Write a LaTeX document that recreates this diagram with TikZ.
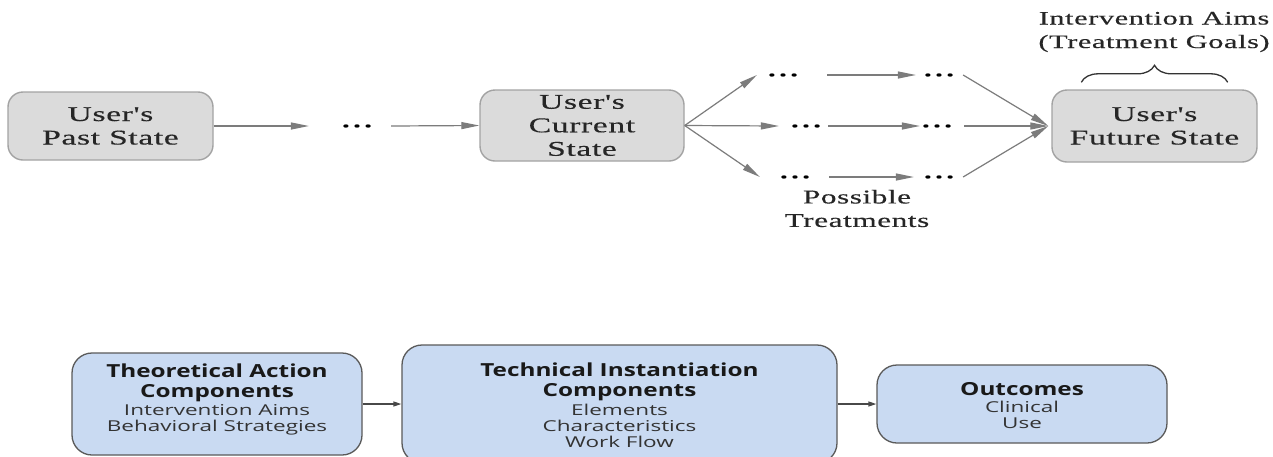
\documentclass[tikz,border=0pt]{standalone}
\usepackage{fontspec}
\usetikzlibrary{arrows.meta,decorations.pathreplacing}
\newfontfamily\topfont[FakeStretch=1.6,LetterSpace=3,FakeBold=0.4]{Liberation Serif}
\newfontfamily\headfont[FakeStretch=1.35]{Open Sans}
\newfontfamily\bodyfont[FakeStretch=1.5]{Open Sans}
\definecolor{tfill}{HTML}{DBDBDB}
\definecolor{tdraw}{HTML}{A3A3A3}
\definecolor{bfill}{HTML}{C9DAF2}
\definecolor{bdraw}{HTML}{5A5A5A}
\definecolor{tline}{HTML}{7C7C7C}
\definecolor{btext}{HTML}{333333}
\newcommand{\threedots}{.\hspace{3.5pt}.\hspace{3.5pt}.}
\tikzset{
  topbox/.style={draw=tdraw,fill=tfill,line width=1.4pt,rounded corners=15pt,
    align=center,inner sep=0pt,font=\topfont\fontsize{21}{23.5}\selectfont,text=black!85},
  botbox/.style={draw=bdraw,fill=bfill,line width=1.3pt,rounded corners=20pt,inner sep=0pt},
  headtext/.style={align=center,inner sep=0pt,text=black!90,font=\headfont\bfseries\fontsize{18}{20}\selectfont},
  bodytext/.style={align=center,inner sep=0pt,text=btext,font=\bodyfont\fontsize{15}{16}\selectfont},
  dots/.style={inner sep=0pt,minimum width=28pt,font=\topfont\bfseries\fontsize{19}{19}\selectfont},
  toplabel/.style={align=center,inner sep=0pt,font=\topfont\fontsize{19.5}{23.5}\selectfont,text=black!85},
  conn/.style={draw=tline,line width=1.2pt,-{Triangle[length=18pt,width=7pt]}},
  bconn/.style={draw=bdraw!80!black,line width=1.3pt,-{Triangle[length=8pt,width=5pt]}},
}
\begin{document}
\begin{tikzpicture}[x=1pt,y=-1pt]
\useasboundingbox[fill=white] (0,0) rectangle (1273,456);
% top row
\node[topbox,minimum width=205pt,minimum height=68pt] (past) at (110.5,126) {User's\\Past State};
\node[topbox,minimum width=204pt,minimum height=71pt] (cur) at (582,125.5) {User's\\Current\\State};
\node[topbox,minimum width=205pt,minimum height=72pt] (fut) at (1154.5,126) {User's\\Future State};
\node[dots] (d0) at (357,126) {\threedots};
\node[dots] (u1) at (783,75) {\threedots};
\node[dots] (m1) at (806,126) {\threedots};
\node[dots] (l1) at (795,177) {\threedots};
\node[dots] (u2) at (939,75) {\threedots};
\node[dots] (m2) at (937,126) {\threedots};
\node[dots] (l2) at (939,177) {\threedots};
\draw[conn] (past.east) -- ([xshift=-33pt]d0.west);
\draw[conn] ([xshift=19pt]d0.east) -- (cur.west);
\draw[conn] (cur.east) -- ([xshift=-11pt]u1.west);
\draw[conn] (cur.east) -- ([xshift=-12pt]m1.west);
\draw[conn] (cur.east) -- ([xshift=-20pt]l1.west);
\draw[conn] ([xshift=29pt]u1.east) -- ([xshift=-8pt]u2.west);
\draw[conn] ([xshift=7pt]m1.east) -- ([xshift=-2pt]m2.west);
\draw[conn] ([xshift=19pt]l1.east) -- ([xshift=-10pt]l2.west);
\draw[conn] ([xshift=9pt]u2.east) -- ([xshift=-3pt]fut.west);
\draw[conn] ([xshift=12pt]m2.east) -- ([xshift=-3pt]fut.west);
\draw[conn] ([xshift=9pt]l2.east) -- ([xshift=-3pt]fut.west);
\node[toplabel] (poss) at (857,208.5) {Possible\\Treatments};
\draw[black!80,line width=1.3pt,decorate,decoration={brace,amplitude=17pt}]
  ([xshift=30pt,yshift=7pt]fut.north west) -- ([xshift=-30pt,yshift=7pt]fut.north east);
\node[toplabel,font=\topfont\fontsize{19}{23.5}\selectfont] (aims) at (1154,32) {Intervention Aims\\(Treatment Goals)};
% bottom row
\node[botbox,minimum width=290pt,minimum height=102pt] (b1) at (217,404) {};
\node[botbox,minimum width=435pt,minimum height=118pt] (b2) at (619.5,404) {};
\node[botbox,minimum width=290pt,minimum height=78pt] (b3) at (1022,404) {};
\node[headtext,anchor=north] (h1) at ([yshift=-11pt]b1.north) {Theoretical Action\\Components};
\node[bodytext,anchor=north] (s1) at ([yshift=-3pt]h1.south) {Intervention Aims\\Behavioral Strategies};
\node[headtext,anchor=north] (h2) at ([yshift=-18pt]b2.north) {Technical Instantiation\\Components};
\node[bodytext,anchor=north] (s2) at ([yshift=-3pt]h2.south) {Elements\\Characteristics\\Work Flow};
\node[headtext,anchor=north] (h3) at ([yshift=-18pt]b3.north) {Outcomes};
\node[bodytext,anchor=north] (s3) at ([yshift=-5pt]h3.south) {Clinical\\Use};
\draw[bconn] (b1.east) -- (b2.west);
\draw[bconn] (b2.east) -- (b3.west);
\end{tikzpicture}
\end{document}
